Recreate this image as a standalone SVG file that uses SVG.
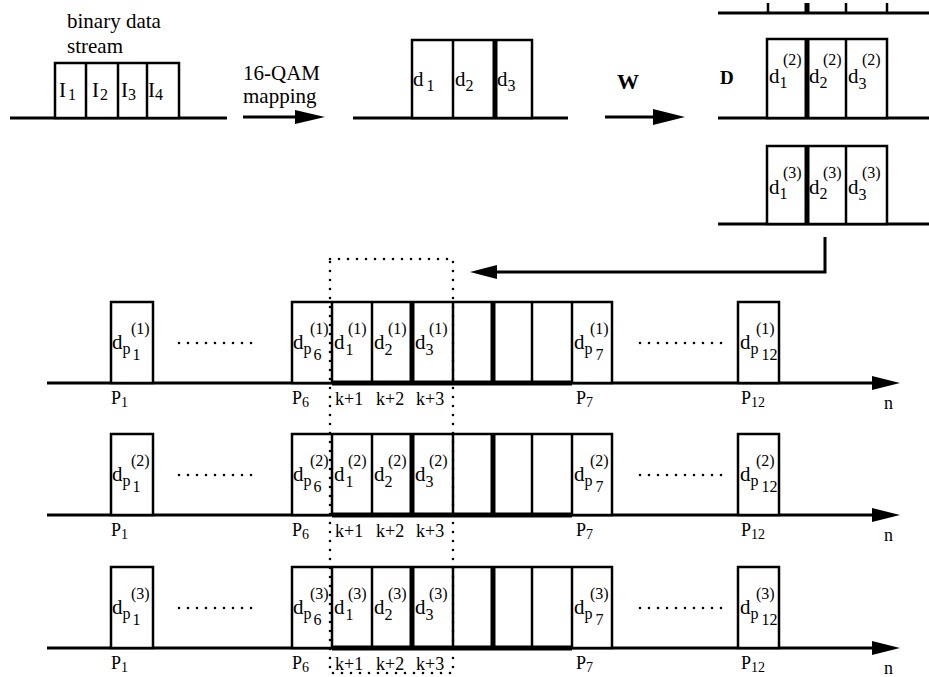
<svg xmlns="http://www.w3.org/2000/svg" xmlns:xlink="http://www.w3.org/1999/xlink" width="929" height="677" viewBox="0 0 929 677">
<style>
text{font-family:"Liberation Serif","Times New Roman",serif;fill:#000}
.ln{stroke:#000;stroke-width:3;fill:none}
.bx{fill:#fff;stroke:#000;stroke-width:2.5}
.tk{stroke:#000;stroke-width:5}
.th{stroke:#000;stroke-width:2.5}
.dt{stroke:#000;stroke-width:2.6;stroke-linecap:round;stroke-dasharray:0 9;fill:none}
.m{font-size:21px}
.s{font-size:16px}
.lb{font-size:18px}
.ls{font-size:14px}
.big{font-size:21px}
.bold{font-weight:bold}
</style>
<defs>
<g id="rowFrame">
<line class="ln" x1="47" y1="383" x2="875" y2="383"/>
<polygon points="872,376 900,383 872,390" fill="#000"/>
<rect class="bx" x="111" y="302" width="42" height="81"/>
<rect class="bx" x="292" y="302" width="320" height="81"/>
<line class="th" x1="332" y1="302" x2="332" y2="383"/>
<line class="th" x1="372" y1="302" x2="372" y2="383"/>
<line class="tk" x1="412" y1="302" x2="412" y2="383"/>
<line class="th" x1="453" y1="302" x2="453" y2="383"/>
<line class="tk" x1="493" y1="302" x2="493" y2="383"/>
<line class="th" x1="532" y1="302" x2="532" y2="383"/>
<line class="th" x1="572" y1="302" x2="572" y2="383"/>
<line class="tk" x1="332" y1="383" x2="572" y2="383"/>
<rect class="bx" x="738" y="302" width="41" height="81"/>
<line class="dt" x1="179" y1="343" x2="255" y2="343"/>
<line class="dt" x1="640" y1="343" x2="723" y2="343"/>
<text class="lb" x="111" y="404">P<tspan class="ls" dy="3">1</tspan></text>
<text class="lb" x="292" y="404">P<tspan class="ls" dy="3">6</tspan></text>
<text class="lb" x="335" y="405">k+1</text>
<text class="lb" x="376" y="405">k+2</text>
<text class="lb" x="416" y="405">k+3</text>
<text class="lb" x="576" y="404">P<tspan class="ls" dy="3">7</tspan></text>
<text class="lb" x="741" y="404">P<tspan class="ls" dy="3">12</tspan></text>
<text class="lb" x="884" y="409">n</text>
</g>
</defs>

<g id="binary-stream">
<text class="big" x="67" y="28">binary data</text>
<text class="big" x="67" y="53">stream</text>
<line class="ln" x1="10" y1="118" x2="227" y2="118"/>
<rect class="bx" x="55" y="63" width="124" height="55"/>
<line class="th" x1="86" y1="63" x2="86" y2="118"/>
<line class="th" x1="118" y1="63" x2="118" y2="118"/>
<line class="th" x1="147" y1="63" x2="147" y2="118"/>
<text class="m" x="59" y="97">I<tspan class="s" dx="2" dy="3">1</tspan></text>
<text class="m" x="92" y="97">I<tspan class="s" dx="1" dy="3">2</tspan></text>
<text class="m" x="121" y="97">I<tspan class="s" dy="3">3</tspan></text>
<text class="m" x="148" y="97">I<tspan class="s" dy="3">4</tspan></text>
</g>

<g id="qam-symbols">
<line class="ln" x1="353" y1="118" x2="568" y2="118"/>
<rect class="bx" x="412" y="40" width="120" height="78"/>
<line class="th" x1="453" y1="40" x2="453" y2="118"/>
<line class="tk" x1="495" y1="40" x2="495" y2="118"/>
<text class="m" x="413" y="86">d<tspan class="s" dx="3" dy="5">1</tspan></text>
<text class="m" x="455" y="86">d<tspan class="s" dy="5">2</tspan></text>
<text class="m" x="497" y="86">d<tspan class="s" dy="5">3</tspan></text>
</g>

<g id="d2-block">
<text class="bold" font-size="19" x="720" y="84">D</text>
<path class="ln" d="M718,13 H929"/>
<line class="th" x1="768" y1="3" x2="768" y2="13"/>
<line class="tk" x1="807" y1="3" x2="807" y2="13"/>
<line class="th" x1="846" y1="3" x2="846" y2="13"/>
<line class="th" x1="887" y1="3" x2="887" y2="13"/>
<line class="ln" x1="718" y1="118" x2="929" y2="118"/>
<rect class="bx" x="767" y="39" width="120" height="79"/>
<line class="tk" x1="807" y1="39" x2="807" y2="118"/>
<line class="th" x1="846" y1="39" x2="846" y2="118"/>
<text class="m" x="769" y="83">d<tspan class="s" dy="5">1</tspan></text>
<text class="s" x="783" y="65">(2)</text>
<text class="m" x="809" y="83">d<tspan class="s" dy="5">2</tspan></text>
<text class="s" x="823" y="65">(2)</text>
<text class="m" x="848" y="83">d<tspan class="s" dy="6">3</tspan></text>
<text class="s" x="862" y="65">(2)</text>
</g>

<g id="d3-block">
<line class="ln" x1="718" y1="224" x2="929" y2="224"/>
<rect class="bx" x="767" y="146" width="120" height="78"/>
<line class="tk" x1="807" y1="146" x2="807" y2="224"/>
<line class="th" x1="846" y1="146" x2="846" y2="224"/>
<text class="m" x="769" y="194">d<tspan class="s" dy="5">1</tspan></text>
<text class="s" x="783" y="178">(3)</text>
<text class="m" x="809" y="194">d<tspan class="s" dy="5">2</tspan></text>
<text class="s" x="823" y="178">(3)</text>
<text class="m" x="848" y="194">d<tspan class="s" dy="6">3</tspan></text>
<text class="s" x="862" y="178">(3)</text>
</g>

<g id="labels">
<text class="big" x="243" y="80">16-QAM</text>
<text class="big" x="243" y="103">mapping</text>
<text class="bold" font-size="22" x="617" y="89">W</text>
</g>

<g id="connectors">
<line class="ln" x1="243" y1="117" x2="297" y2="117"/>
<polygon points="295,110 325,117 295,124" fill="#000"/>
<line class="ln" x1="605" y1="117" x2="655" y2="117"/>
<polygon points="653,109 685,117 653,125" fill="#000"/>
<polyline class="ln" points="825,237 825,272 495,272"/>
<polygon points="497,265 470,272 497,279" fill="#000"/>
</g>

<g id="row1">
<use xlink:href="#rowFrame"/>
<text class="m" x="112" y="349">d<tspan class="s" dy="5">p</tspan><tspan class="s" dx="2" dy="6">1</tspan></text>
<text class="s" x="131" y="334">(1)</text>
<text class="m" x="293" y="349">d<tspan class="s" dy="5">p</tspan><tspan class="s" dx="2" dy="6">6</tspan></text>
<text class="s" x="310" y="334">(1)</text>
<text class="m" x="334" y="349">d<tspan class="s" dx="1" dy="6">1</tspan></text>
<text class="s" x="348" y="334">(1)</text>
<text class="m" x="374" y="349">d<tspan class="s" dy="6">2</tspan></text>
<text class="s" x="388" y="334">(1)</text>
<text class="m" x="415" y="349">d<tspan class="s" dy="6">3</tspan></text>
<text class="s" x="429" y="334">(1)</text>
<text class="m" x="574" y="349">d<tspan class="s" dy="5">p</tspan><tspan class="s" dx="3" dy="6">7</tspan></text>
<text class="s" x="590" y="334">(1)</text>
<text class="m" x="740" y="349">d<tspan class="s" dy="5">p</tspan><tspan class="s" dx="3" dy="6">12</tspan></text>
<text class="s" x="756" y="334">(1)</text>
</g>

<g id="row2" transform="translate(0,132)">
<use xlink:href="#rowFrame"/>
<text class="m" x="112" y="349">d<tspan class="s" dy="5">p</tspan><tspan class="s" dx="2" dy="6">1</tspan></text>
<text class="s" x="131" y="334">(2)</text>
<text class="m" x="293" y="349">d<tspan class="s" dy="5">p</tspan><tspan class="s" dx="2" dy="6">6</tspan></text>
<text class="s" x="310" y="334">(2)</text>
<text class="m" x="334" y="349">d<tspan class="s" dx="1" dy="6">1</tspan></text>
<text class="s" x="348" y="334">(2)</text>
<text class="m" x="374" y="349">d<tspan class="s" dy="6">2</tspan></text>
<text class="s" x="388" y="334">(2)</text>
<text class="m" x="415" y="349">d<tspan class="s" dy="6">3</tspan></text>
<text class="s" x="429" y="334">(2)</text>
<text class="m" x="574" y="349">d<tspan class="s" dy="5">p</tspan><tspan class="s" dx="3" dy="6">7</tspan></text>
<text class="s" x="590" y="334">(2)</text>
<text class="m" x="740" y="349">d<tspan class="s" dy="5">p</tspan><tspan class="s" dx="3" dy="6">12</tspan></text>
<text class="s" x="756" y="334">(2)</text>
</g>

<g id="row3" transform="translate(0,265)">
<use xlink:href="#rowFrame"/>
<text class="m" x="112" y="349">d<tspan class="s" dy="5">p</tspan><tspan class="s" dx="2" dy="6">1</tspan></text>
<text class="s" x="131" y="334">(3)</text>
<text class="m" x="293" y="349">d<tspan class="s" dy="5">p</tspan><tspan class="s" dx="2" dy="6">6</tspan></text>
<text class="s" x="310" y="334">(3)</text>
<text class="m" x="334" y="349">d<tspan class="s" dx="1" dy="6">1</tspan></text>
<text class="s" x="348" y="334">(3)</text>
<text class="m" x="374" y="349">d<tspan class="s" dy="6">2</tspan></text>
<text class="s" x="388" y="334">(3)</text>
<text class="m" x="415" y="349">d<tspan class="s" dy="6">3</tspan></text>
<text class="s" x="429" y="334">(3)</text>
<text class="m" x="574" y="349">d<tspan class="s" dy="5">p</tspan><tspan class="s" dx="3" dy="6">7</tspan></text>
<text class="s" x="590" y="334">(3)</text>
<text class="m" x="740" y="349">d<tspan class="s" dy="5">p</tspan><tspan class="s" dx="3" dy="6">12</tspan></text>
<text class="s" x="756" y="334">(3)</text>
</g>

<g id="selection-window">
<rect class="dt" x="330" y="259" width="123" height="414"/>
</g>
</svg>
